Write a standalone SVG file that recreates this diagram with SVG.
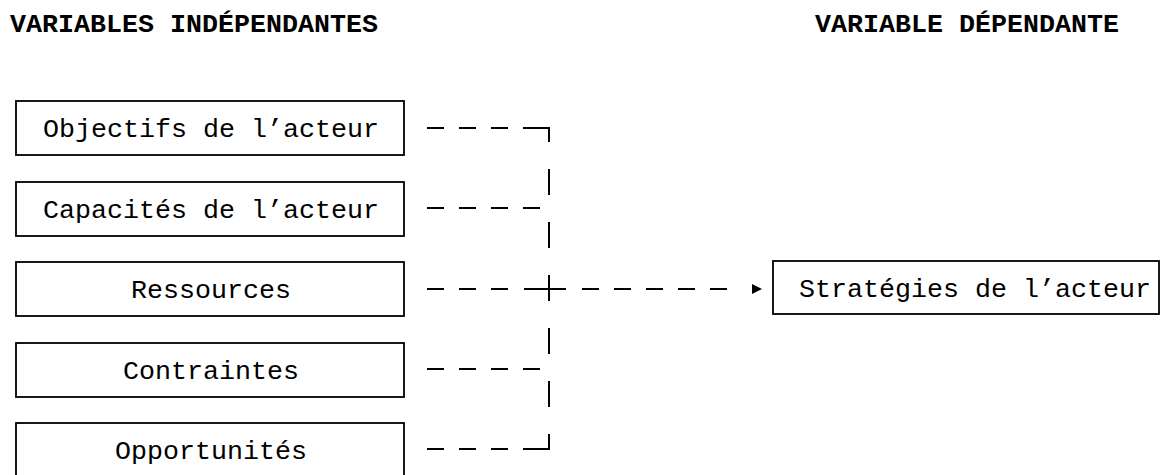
<svg xmlns="http://www.w3.org/2000/svg" width="1165" height="475" viewBox="0 0 1165 475">
  <style>
    .head { font-family: "Courier New", Courier, "Nimbus Mono PS", FreeMono, "Liberation Mono", monospace; font-size: 26.67px; font-weight: bold; fill: #000; }
    .lbl { font-family: "Courier New", Courier, "Nimbus Mono PS", FreeMono, "Liberation Mono", monospace; font-size: 26.67px; fill: #000; text-anchor: middle; }
    .box { fill: #fff; stroke: #000; stroke-width: 1.8; }
    .dash { fill: none; stroke: #000; stroke-width: 2; stroke-dasharray: 17 15; }
    .vdash { fill: none; stroke: #000; stroke-width: 2; stroke-dasharray: 26 27; stroke-dashoffset: 12; }
    .solid { fill: none; stroke: #000; stroke-width: 2; }
  </style>
  <defs>
    <marker id="tip" viewBox="0 0 10 10" refX="10" refY="5" markerWidth="10" markerHeight="10" markerUnits="userSpaceOnUse" orient="auto">
      <path d="M0,0 L10,5 L0,10 Z" fill="#000"/>
    </marker>
  </defs>
  <rect width="1165" height="475" fill="#fff"/>

  <!-- column headings -->
  <text class="head" x="10" y="32">VARIABLES INDÉPENDANTES</text>
  <text class="head" x="815" y="32">VARIABLE DÉPENDANTE</text>

  <!-- independent variables -->
  <g id="objectifs">
    <rect class="box" x="16" y="101" width="388" height="54"/>
    <text class="lbl" x="211" y="137">Objectifs de l’acteur</text>
  </g>
  <g id="capacites">
    <rect class="box" x="16" y="182" width="388" height="54"/>
    <text class="lbl" x="211" y="218">Capacités de l’acteur</text>
  </g>
  <g id="ressources">
    <rect class="box" x="16" y="262" width="388" height="54"/>
    <text class="lbl" x="211" y="298">Ressources</text>
  </g>
  <g id="contraintes">
    <rect class="box" x="16" y="343" width="388" height="54"/>
    <text class="lbl" x="211" y="379">Contraintes</text>
  </g>
  <g id="opportunites">
    <rect class="box" x="16" y="423" width="388" height="54"/>
    <text class="lbl" x="211" y="459">Opportunités</text>
  </g>

  <!-- dependent variable -->
  <g id="strategies">
    <rect class="box" x="773" y="261" width="386" height="53"/>
    <text class="lbl" x="975" y="297">Stratégies de l’acteur</text>
  </g>

  <!-- connectors: dashed leads into one dashed collector, then the arrow -->
  <g id="connectors">
    <path class="dash" d="M427,128 H540"/>
    <path class="solid" d="M523,128 H549 V142"/>
    <path class="dash" d="M427,208 H540"/>
    <path class="dash" d="M427,289 H508"/>
    <path class="solid" d="M524,289 H566"/>
    <path class="dash" d="M582,289 H727"/>
    <path d="M752,289 H762" fill="none" stroke="none" marker-end="url(#tip)"/>
    <path class="dash" d="M427,369 H540"/>
    <path class="dash" d="M427,449 H540"/>
    <path class="solid" d="M523,449 H549 V437"/>
    <path class="vdash" d="M549,128 V449"/>
  </g>
</svg>
